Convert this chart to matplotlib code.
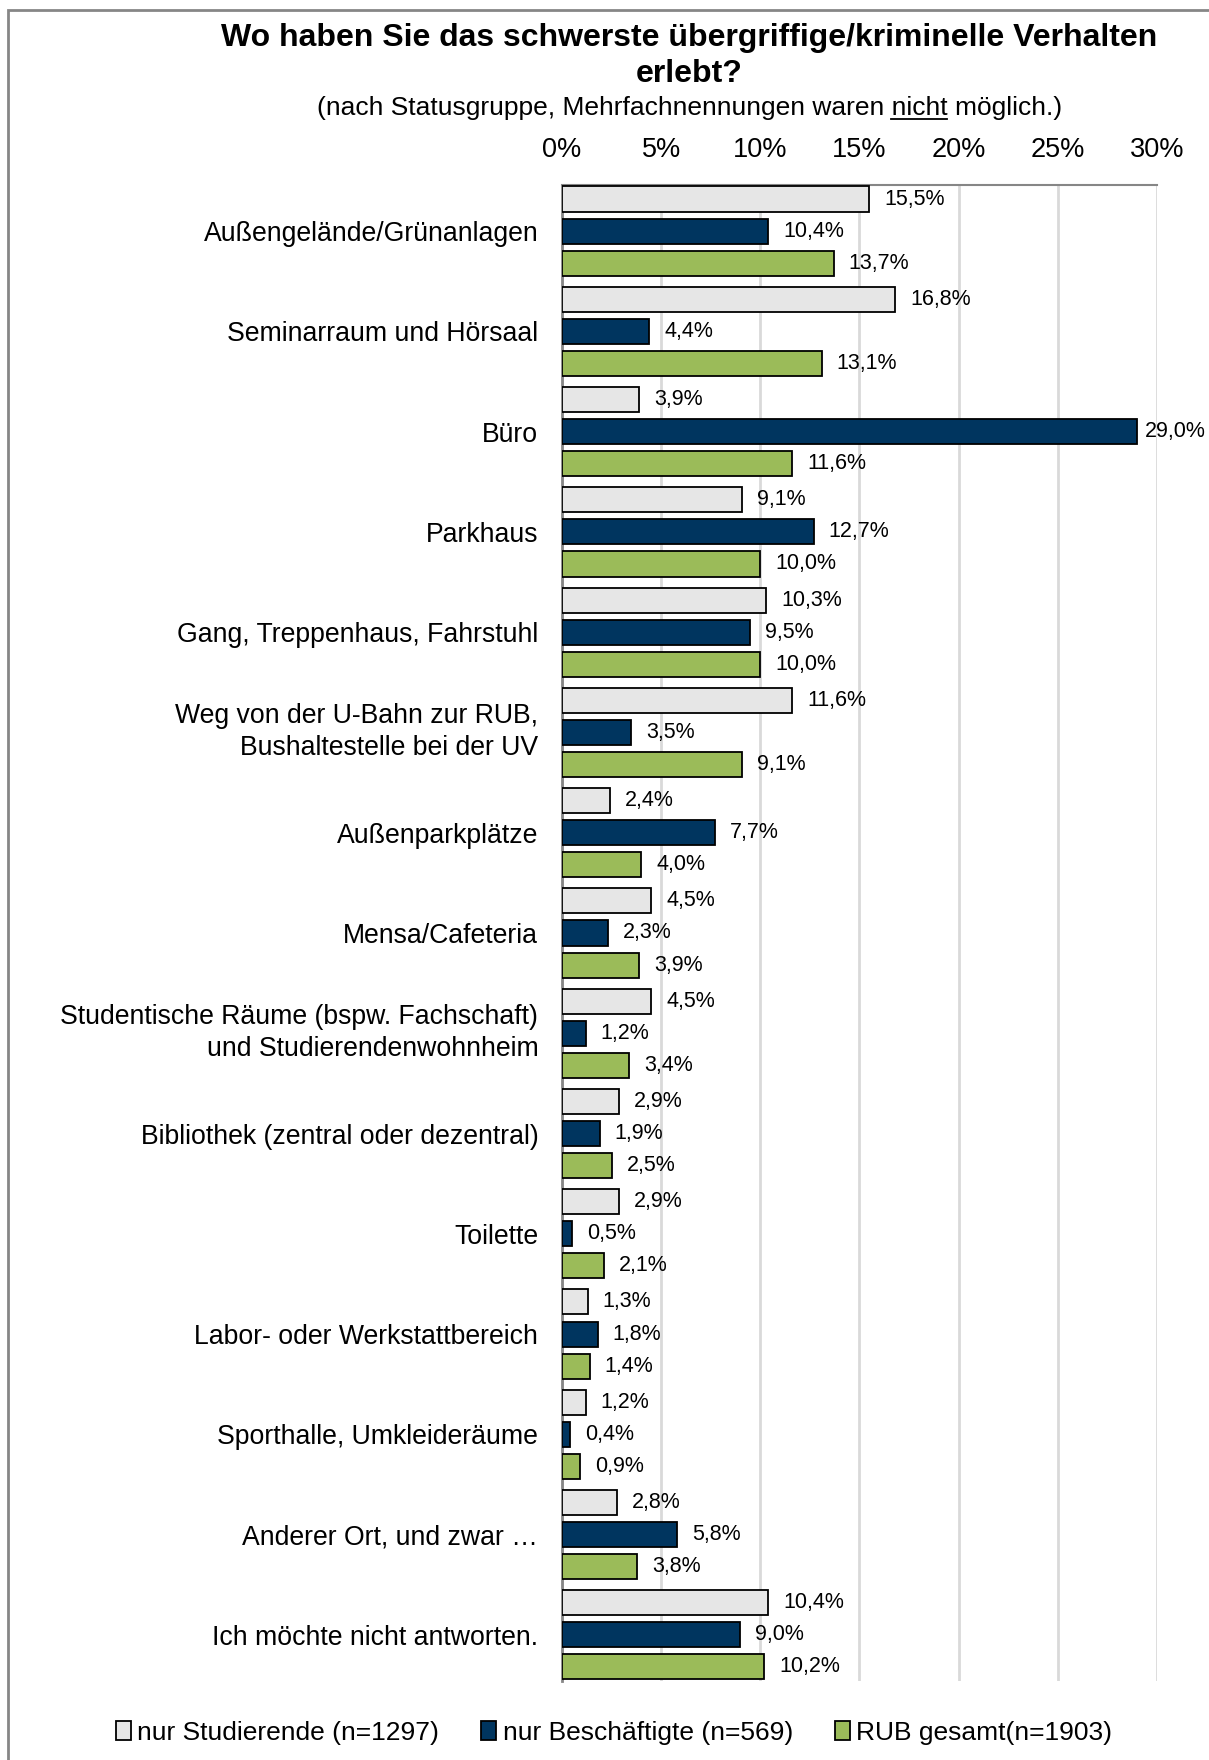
import numpy as np
import matplotlib.pyplot as plt
from matplotlib.patches import Rectangle

plt.rcParams['font.family'] = ['Liberation Sans', 'DejaVu Sans']

# Daten
kategorien = [
    'Außengelände/Grünanlagen',
    'Seminarraum und Hörsaal',
    'Büro',
    'Parkhaus',
    'Gang, Treppenhaus, Fahrstuhl',
    'Weg von der U-Bahn zur RUB,\nBushaltestelle bei der UV',
    'Außenparkplätze',
    'Mensa/Cafeteria',
    'Studentische Räume (bspw. Fachschaft)\nund Studierendenwohnheim',
    'Bibliothek (zentral oder dezentral)',
    'Toilette',
    'Labor- oder Werkstattbereich',
    'Sporthalle, Umkleideräume',
    'Anderer Ort, und zwar …',
    'Ich möchte nicht antworten.',
]
studierende = [15.5, 16.8, 3.9, 9.1, 10.3, 11.6, 2.4, 4.5, 4.5, 2.9, 2.9, 1.3, 1.2, 2.8, 10.4]
beschaeftigte = [10.4, 4.4, 29.0, 12.7, 9.5, 3.5, 7.7, 2.3, 1.2, 1.9, 0.5, 1.8, 0.4, 5.8, 9.0]
gesamt = [13.7, 13.1, 11.6, 10.0, 10.0, 9.1, 4.0, 3.9, 3.4, 2.5, 2.1, 1.4, 0.9, 3.8, 10.2]
x_ticks = [0, 5, 10, 15, 20, 25, 30]

serien = [
    (studierende, '#E6E6E6', 'nur Studierende (n=1297)'),
    (beschaeftigte, '#00355F', 'nur Beschäftigte (n=569)'),
    (gesamt, '#9BBB59', 'RUB gesamt(n=1903)'),
]

fig = plt.figure(figsize=(12.09, 17.6), dpi=100)
ax = fig.add_axes([0.4648, 0.0449, 0.4922, 0.85])

y = np.arange(len(kategorien))
offsets = [-0.32, 0.0, 0.32]
for (werte, farbe, name), off in zip(serien, offsets):
    bars = ax.barh(y + off, werte, height=0.25, color=farbe, edgecolor='black',
                   linewidth=1.3, label=name, zorder=3)
    for b, v in zip(bars, werte):
        # Beschriftung rechts vom Balken, am Rand nicht abschneiden
        ax.text(min(v + 0.75, 29.4), b.get_y() + b.get_height() / 2,
                f'{v:.1f}%'.replace('.', ','), va='center', ha='left',
                fontsize=15.5, zorder=4)

ax.set_ylim(len(kategorien) - 0.54, -0.46)
ax.set_xlim(0, 30)
ax.set_yticks(y)
ax.set_yticklabels(kategorien, fontsize=19.2, linespacing=1.3)
for lbl in ax.get_yticklabels():
    if '\n' in lbl.get_text():
        lbl.set_va('center')
ax.tick_params(axis='y', length=0, pad=17)
ax.xaxis.tick_top()
ax.set_xticks(x_ticks)
ax.set_xticklabels([f'{t}%' for t in x_ticks], fontsize=19.5)
ax.tick_params(axis='x', length=0, pad=16)
ax.grid(axis='x', color='#D9D9D9', linewidth=2, zorder=0)
for s in ['right', 'bottom']:
    ax.spines[s].set_visible(False)
ax.spines['top'].set_color('#868686')
ax.spines['top'].set_linewidth(1.5)
ax.spines['left'].set_color('#868686')
ax.spines['left'].set_linewidth(2)

# Titel
fig.text(0.570, 0.9785, 'Wo haben Sie das schwerste übergriffige/kriminelle Verhalten',
         ha='center', va='center', fontsize=23, fontweight='bold')
fig.text(0.570, 0.958, 'erlebt?', ha='center', va='center', fontsize=23, fontweight='bold')
sub = fig.text(0.570, 0.9385, '(nach Statusgruppe, Mehrfachnennungen waren nicht möglich.)',
               ha='center', va='center', fontsize=19)
fig.canvas.draw()
r = fig.canvas.get_renderer()
bb = sub.get_window_extent(r)
pre = fig.text(0, 0, '(nach Statusgruppe, Mehrfachnennungen waren ', fontsize=19)
w_pre = pre.get_window_extent(r).width
pre.remove()
nic = fig.text(0, 0, 'nicht', fontsize=19)
w_nic = nic.get_window_extent(r).width
nic.remove()
W, H = fig.canvas.get_width_height()
x0 = (bb.x0 + w_pre) / W
x1 = (bb.x0 + w_pre + w_nic) / W
yu = (bb.y0 + 1) / H
fig.add_artist(plt.Line2D([x0, x1], [yu, yu], color='black', linewidth=1.3))

# Legende
fig.legend(loc='center', bbox_to_anchor=(0.508, 0.0155), ncol=3, frameon=False,
           fontsize=19, handlelength=0.55, handleheight=0.75, handletextpad=0.25,
           columnspacing=1.6)

# Rahmen
fig.add_artist(Rectangle((8 / 1209, -0.1), 1.2, 1750 / 1760 + 0.1,
                         transform=fig.transFigure, fill=False,
                         edgecolor='#868686', linewidth=2))

fig.savefig('out.png', dpi=100)
